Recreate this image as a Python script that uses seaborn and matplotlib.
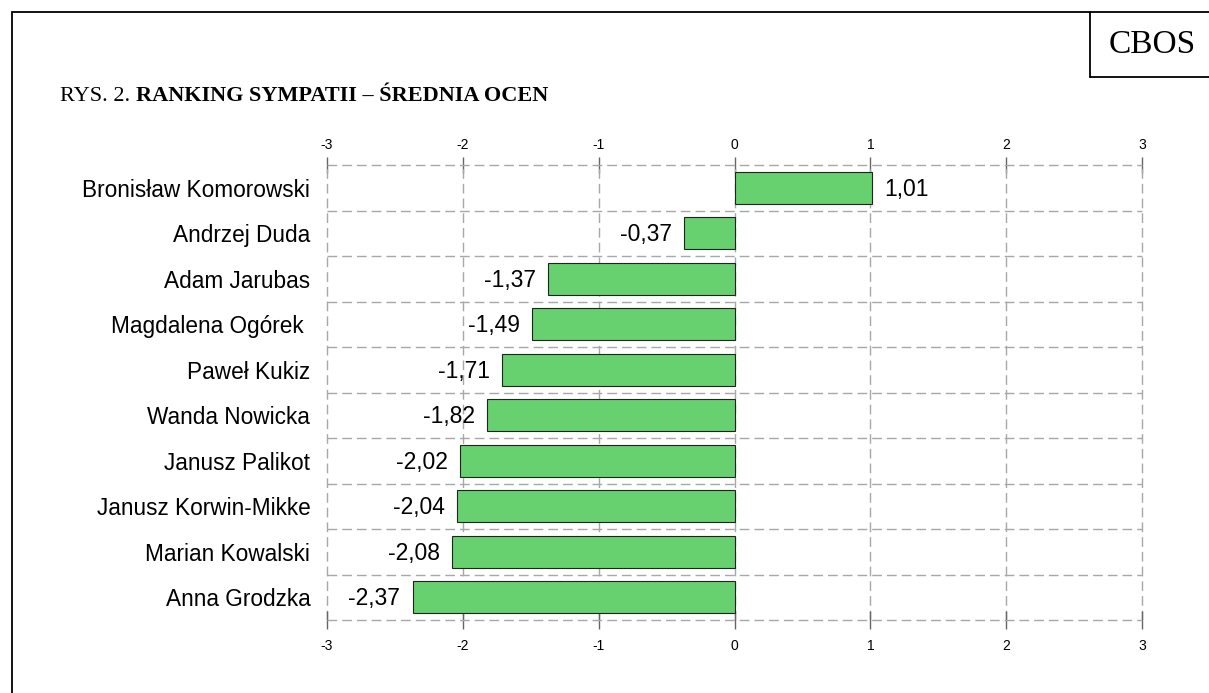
import numpy as np
import pandas as pd
import seaborn as sns
import matplotlib.pyplot as plt
from matplotlib.lines import Line2D

# data
names = [
    "Bronisław Komorowski",
    "Andrzej Duda",
    "Adam Jarubas",
    "Magdalena Ogórek ",
    "Paweł Kukiz",
    "Wanda Nowicka",
    "Janusz Palikot",
    "Janusz Korwin-Mikke",
    "Marian Kowalski",
    "Anna Grodzka",
]
scores = [1.01, -0.37, -1.37, -1.49, -1.71, -1.82, -2.02, -2.04, -2.08, -2.37]
x_ticks = [-3, -2, -1, 0, 1, 2, 3]

title_plain = "RYS. 2. "
title_bold = "RANKING SYMPATII – ŚREDNIA OCEN"
corner_label = "CBOS"

bar_color = "#66d16e"
grid_color = "#a8a8a8"
tick_color = "#666666"
sans = ["Liberation Sans", "DejaVu Sans"]
serif = ["Liberation Serif", "DejaVu Serif"]

sns.set_style("white")
plt.rcParams["font.family"] = sans
plt.rcParams["text.color"] = "black"
plt.rcParams["xtick.labelcolor"] = "black"
plt.rcParams["ytick.labelcolor"] = "black"

df = pd.DataFrame({"name": names, "score": scores})

W, H = 1209, 693
fig = plt.figure(figsize=(W / 100, H / 100), dpi=100)
ax = fig.add_axes([327 / W, 1 - 620 / H, (1142 - 327) / W, (620 - 165) / H])

sns.barplot(
    data=df, x="score", y="name", orient="h", color=bar_color, saturation=1,
    edgecolor="#222222", linewidth=0.8, width=0.7, ax=ax,
)

for i, v in enumerate(scores):
    txt = f"{v:.2f}".replace(".", ",")
    if v >= 0:
        ax.text(v + 0.09, i + 0.03, txt, ha="left", va="center", fontsize=16.5,
                family=sans, color="black")
    else:
        ax.text(v - 0.09, i + 0.03, txt, ha="right", va="center", fontsize=16.5,
                family=sans, color="black")

ax.set_xlim(-3, 3)
ax.set_ylim(len(names) - 0.5, -0.5)
ax.set_xticks(x_ticks)
ax.set_xticklabels([str(t) for t in x_ticks])
ax.set_yticks(np.arange(-0.5, len(names), 1), minor=True)
ax.set_xlabel("")
ax.set_ylabel("")

ax.tick_params(axis="x", bottom=True, direction="inout", length=13, width=1,
               color=tick_color, labelsize=10, pad=7, labelcolor="black")
ax.tick_params(axis="y", which="both", length=0, labelsize=16.3, pad=12,
               labelcolor="black")

top = ax.secondary_xaxis("top")
top.set_xticks(x_ticks)
top.set_xticklabels([str(t) for t in x_ticks])
top.tick_params(direction="inout", length=12, width=1, color=tick_color,
                labelsize=10, pad=3, labelcolor="black")
for s in top.spines.values():
    s.set_visible(False)

dash = (0, (7, 3.6))
ax.grid(axis="x", which="major", linestyle=dash, color=grid_color, linewidth=1)
ax.grid(axis="y", which="minor", linestyle=dash, color=grid_color, linewidth=1)
ax.grid(axis="y", which="major", visible=False)
ax.set_axisbelow(True)
for t in ax.yaxis.get_minor_ticks():
    t.gridline.set_clip_on(False)
for t in ax.xaxis.get_major_ticks():
    t.gridline.set_clip_on(False)
for s in ax.spines.values():
    s.set_visible(False)

# frame and corner box
fx, fy = 12 / W, 1 - 12 / H
fig.add_artist(Line2D([fx, fx], [0, fy], transform=fig.transFigure, color="black", lw=1.3))
fig.add_artist(Line2D([fx, 1], [fy, fy], transform=fig.transFigure, color="black", lw=1.3))
bx, by = 1090 / W, 1 - 77 / H
fig.add_artist(Line2D([bx, bx], [by, fy], transform=fig.transFigure, color="black", lw=1.3))
fig.add_artist(Line2D([bx, 1], [by, by], transform=fig.transFigure, color="black", lw=1.3))
fig.text(1152 / W, 1 - 45 / H, corner_label, ha="center", va="center",
         fontsize=24, family=serif)

t1 = fig.text(60 / W, 1 - 101 / H, title_plain, ha="left", va="baseline",
              fontsize=16, family=serif)
fig.canvas.draw()
bb = t1.get_window_extent()
fig.text(bb.x1 / W, 1 - 101 / H, title_bold, ha="left", va="baseline",
         fontsize=16, family=serif, fontweight="bold")

fig.savefig("out.png", dpi=100, facecolor="white")
